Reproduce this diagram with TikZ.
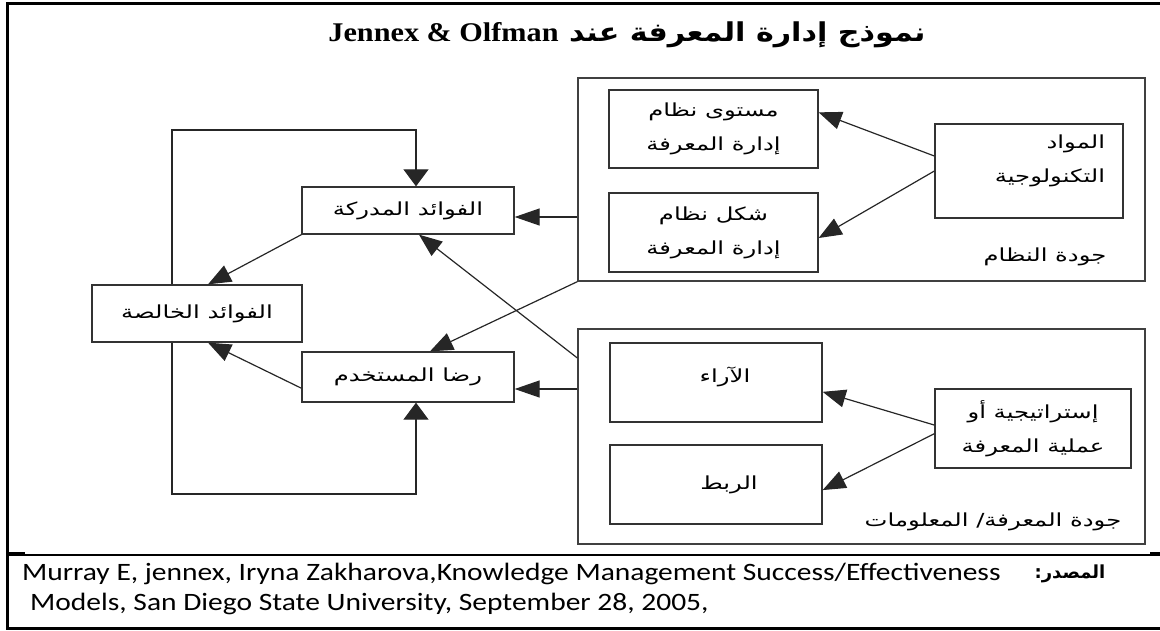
\documentclass[tikz,border=0pt]{standalone}
\usepackage{fontspec}
\setmainfont{Liberation Serif}
\newfontfamily\ar[Script=Arabic, FakeStretch=1.35]{DejaVu Sans}
\newfontfamily\arb[Script=Arabic]{DejaVu Sans}
\newfontfamily\artitle[Script=Arabic, FakeStretch=1.16]{DejaVu Sans}
\newfontfamily\lattitle[FakeStretch=1.12]{Liberation Serif}
\newfontfamily\capfont[FakeStretch=1.18]{Carlito}
\TeXXeTstate=1
\usetikzlibrary{arrows.meta}
\begin{document}
\begin{tikzpicture}[x=1pt,y=-1pt,
  box/.style={draw=black!80, line width=1.3pt, inner sep=0pt, font=\ar\fontsize{18}{34}\selectfont, align=center},
  grp/.style={draw=black!75, line width=1.3pt, inner sep=0pt},
  lbl/.style={inner sep=0pt, font=\ar\fontsize{18}{34}\selectfont},
  conn/.style={draw=black!85, line width=1.2pt},
  harr/.style={conn, -{Triangle[length=25pt,width=17pt]}},
  varr/.style={conn, -{Triangle[length=17pt,width=25pt]}},
  darr/.style={conn, -{Triangle[length=23pt,width=18pt]}},
  frame/.style={line width=3pt, black}]
\useasboundingbox (0,0) rectangle (1160,630);
% outer frame
\draw[frame] (6,3) -- (1160,3);
\draw[frame] (7,2) -- (7,629);
\draw[frame] (6,628) -- (1160,628);
\draw[line width=1.5pt] (7,555) -- (1160,555);
\draw[line width=2.5pt] (7,553.5) -- (25,553.5);
\draw[line width=2.5pt] (1150,553.5) -- (1160,553.5);
% title
\node[inner sep=0pt] (title) at (627,34.5)
  {\artitle\bfseries\fontsize{26}{30}\selectfont\beginR نموذج إدارة المعرفة عند \beginL{\lattitle\bfseries\fontsize{27}{30}\selectfont Jennex \& Olfman}\endL\endR};
% groups
\node[grp, minimum width=567pt, minimum height=203pt] (topgrp) at (861.5,179.5) {};
\node[grp, minimum width=567pt, minimum height=215pt] (botgrp) at (861.5,436.5) {};
% inner boxes of top group
\node[box, minimum width=209pt, minimum height=78pt] (mustawa) at (713.5,129) {\beginR مستوى نظام\endR\\\beginR إدارة المعرفة\endR};
\node[box, minimum width=209pt, minimum height=79pt] (shakl) at (713.5,232.5) {\beginR شكل نظام\endR\\\beginR إدارة المعرفة\endR};
\node[box, minimum width=188pt, minimum height=94pt] (mawad) at (1029,171) {};
\node[inner sep=0pt, font=\ar\fontsize{18}{34}\selectfont, align=right, text width=152pt] (mawadt) at (1029,161) {\beginR المواد\endR\\\beginR التكنولوجية\endR};
\node[lbl] (qsys) at (1045,257) {\beginR جودة النظام\endR};
% inner boxes of bottom group
\node[box, minimum width=212pt, minimum height=79pt] (araa) at (716,382.5) {\hspace*{18pt}\raisebox{6pt}[\height][\depth]{\beginR الآراء\endR}};
\node[box, minimum width=212pt, minimum height=79pt] (rabt) at (716,484.5) {\hspace*{26pt}\beginR الربط\endR};
\node[box, minimum width=196pt, minimum height=79pt] (istr) at (1033,428.5) {\beginR إستراتيجية أو\endR\\\beginR عملية المعرفة\endR};
\node[lbl] (qkn) at (993,522) {\beginR جودة المعرفة/ المعلومات\endR};
% left boxes
\node[box, minimum width=212pt, minimum height=47pt] (mad) at (408,210.5) {\beginR الفوائد المدركة\endR};
\node[box, minimum width=210pt, minimum height=57pt] (khal) at (197,313.5) {\beginR الفوائد الخالصة\endR};
\node[box, minimum width=212pt, minimum height=50pt] (rida) at (408,377) {\beginR رضا المستخدم\endR};
% helper coordinates
\coordinate (loopx) at (172,0);
\coordinate (loopin) at (416,0);
\coordinate (looptop) at (0,130);
\coordinate (loopbot) at (0,494);
\coordinate (kin) at (208,0);
\coordinate (h1) at (0,217);
\coordinate (h2) at (0,389);
\coordinate (h3) at (0,358);
\coordinate (ri) at (430,0);
\coordinate (mi) at (419,0);
% connectors
\draw[varr] (khal.north -| loopx) |- (looptop -| loopin) -- (mad.north -| loopin);
\draw[varr] (khal.south -| loopx) |- (loopbot -| loopin) -- (rida.south -| loopin);
\draw[darr] (mad.south west) -- (khal.north -| kin);
\draw[darr] (rida.186) -- (khal.south -| kin);
\draw[harr] (topgrp.west |- h1) -- (mad.east |- h1);
\draw[harr] (botgrp.west |- h2) -- (rida.east |- h2);
\draw[darr] (topgrp.south west) -- (rida.north -| ri);
\draw[darr] (botgrp.west |- h3) -- (mad.south -| mi);
\draw[darr] (mawad.171) -- (mustawa.9);
\draw[darr] (mawad.west) -- (shakl.-3);
\draw[darr] (istr.178) -- (araa.-5);
\draw[darr] (istr.183) -- (rabt.-3);
% caption
\node[anchor=west, inner sep=0pt, font=\capfont\fontsize{25}{28}\selectfont] (cap1) at (22,574)
  {Murray E, jennex, Iryna Zakharova,Knowledge Management Success/Effectiveness};
\node[inner sep=0pt, font=\arb\bfseries\fontsize{18}{20}\selectfont] (src) at (1070,574) {\beginR المصدر:\endR};
\node[anchor=west, inner sep=0pt, font=\capfont\fontsize{25}{28}\selectfont] (cap2) at (30,604)
  {Models, San Diego State University, September 28, 2005,};
\end{tikzpicture}
\end{document}
